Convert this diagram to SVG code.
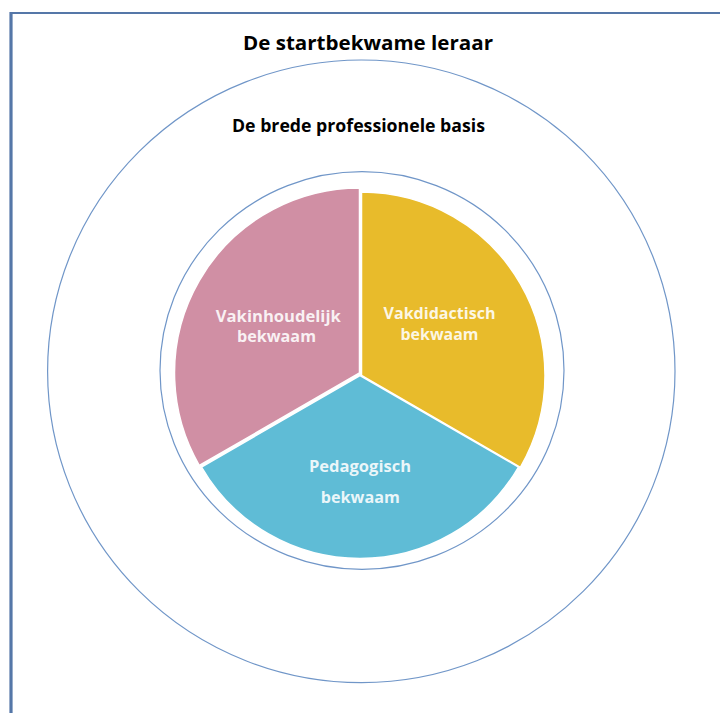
<svg xmlns="http://www.w3.org/2000/svg" width="720" height="713" viewBox="0 0 720 713">
<style>
.ring{fill:none;stroke:#7096C8;stroke-width:1.2}
.border{stroke:#5577A8;fill:none}
.title{font-family:"Open Sans","Liberation Sans",sans-serif;font-weight:bold;fill:#000;text-anchor:middle}
.lbl{font-family:"Open Sans","Liberation Sans",sans-serif;font-weight:bold;fill:#FFFFFF;fill-opacity:0.88;text-anchor:middle;font-size:15.5px}
.sec{stroke:#FFFFFF;stroke-width:1.5;stroke-linejoin:miter}
</style>
<rect width="720" height="713" fill="#FFFFFF"/>
<g id="frame">
<line class="border" x1="10" y1="13" x2="720" y2="13" stroke-width="2.2"/>
<line class="border" x1="11" y1="12" x2="11" y2="713" stroke-width="3.2"/>
</g>
<g id="outer">
<ellipse class="ring" cx="361.3" cy="371.3" rx="313.7" ry="311.3"/>
<text class="title" x="368" y="50" font-size="20" textLength="250" lengthAdjust="spacingAndGlyphs">De startbekwame leraar</text>
<text class="title" x="358.5" y="131.5" font-size="17" textLength="253" lengthAdjust="spacingAndGlyphs">De brede professionele basis</text>
</g>
<g id="inner">
<ellipse class="ring" cx="362" cy="370.5" rx="202" ry="198.8"/>
</g>
<g id="vakinhoudelijk">
<path class="sec" fill="#D08FA4" d="M359.5 373 L359.5 188 A185 185 0 0 0 199.3 465.5 Z"/>
<text class="lbl" x="278.3" y="321.5" textLength="125" lengthAdjust="spacingAndGlyphs">Vakinhoudelijk</text>
<text class="lbl" x="276.5" y="341.5" textLength="79" lengthAdjust="spacingAndGlyphs">bekwaam</text>
</g>
<g id="vakdidactisch">
<path class="sec" fill="#E8BB2B" d="M361.5 375.5 L361.5 192 A183.5 183.5 0 0 1 520.4 467.3 Z"/>
<text class="lbl" x="439.5" y="319" textLength="112" lengthAdjust="spacingAndGlyphs">Vakdidactisch</text>
<text class="lbl" x="439.5" y="340" textLength="78" lengthAdjust="spacingAndGlyphs">bekwaam</text>
</g>
<g id="pedagogisch">
<path class="sec" fill="#5FBCD6" d="M360 375.5 L201.5 467 A183 183 0 0 0 518.5 467 Z"/>
<text class="lbl" x="360" y="471.5" textLength="102" lengthAdjust="spacingAndGlyphs">Pedagogisch</text>
<text class="lbl" x="360.3" y="502.5" textLength="79" lengthAdjust="spacingAndGlyphs">bekwaam</text>
</g>
<g id="connectors"></g>
</svg>
